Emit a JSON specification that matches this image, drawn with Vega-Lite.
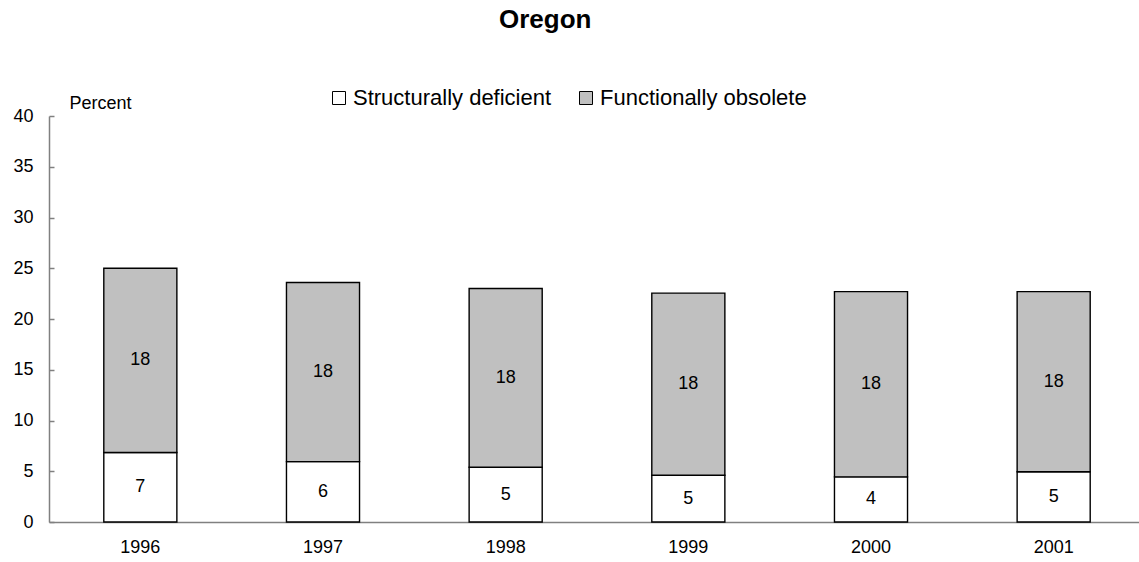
{
  "$schema": "https://vega.github.io/schema/vega-lite/v6.json",
  "autosize": {"type": "none"},
  "padding": {"left": 49, "top": 116, "right": 0, "bottom": 40},
  "width": 1096,
  "height": 406,
  "background": "white",
  "config": {"view": {"stroke": null}, "font": "Liberation Sans"},
  "title": {"text": "Oregon", "fontSize": 26, "fontWeight": "bold", "font": "Liberation Sans", "color": "black", "anchor": "start", "frame": "group", "dx": 450, "baseline": "alphabetic", "offset": 33},
  "data": {"values": [
    {"year": "1996", "category": "Structurally deficient", "value": 6.85},
    {"year": "1996", "category": "Functionally obsolete", "value": 18.15},
    {"year": "1997", "category": "Structurally deficient", "value": 5.95},
    {"year": "1997", "category": "Functionally obsolete", "value": 17.65},
    {"year": "1998", "category": "Structurally deficient", "value": 5.4},
    {"year": "1998", "category": "Functionally obsolete", "value": 17.6},
    {"year": "1999", "category": "Structurally deficient", "value": 4.6},
    {"year": "1999", "category": "Functionally obsolete", "value": 17.95},
    {"year": "2000", "category": "Structurally deficient", "value": 4.45},
    {"year": "2000", "category": "Functionally obsolete", "value": 18.25},
    {"year": "2001", "category": "Structurally deficient", "value": 4.95},
    {"year": "2001", "category": "Functionally obsolete", "value": 17.75}
  ]},
  "transform": [
    {"stack": "value", "groupby": ["year"], "sort": [{"field": "category", "order": "descending"}], "as": ["y0", "y1"]},
    {"calculate": "(datum.y0 + datum.y1) / 2", "as": "mid"}
  ],
  "encoding": {
    "x": {"field": "year", "type": "nominal", "scale": {"paddingInner": 0.6, "paddingOuter": 0.3},
      "axis": {"title": null, "ticks": false, "labelAngle": 0, "labelFontSize": 18, "labelColor": "black", "labelPadding": 16, "domainColor": "#808080", "domainWidth": 1.5}}
  },
  "layer": [
    {
      "mark": {"type": "bar", "stroke": "black", "strokeWidth": 1.4},
      "encoding": {
        "y": {"field": "y1", "type": "quantitative", "scale": {"domain": [0, 40]},
          "axis": {"title": "Percent", "values": [0, 5, 10, 15, 20, 25, 30, 35, 40], "grid": false, "tickSize": -5, "labelPadding": 21, "labelFontSize": 18, "labelColor": "black", "domainColor": "#808080", "domainWidth": 1.5, "tickColor": "#808080", "tickWidth": 1.5, "titleAngle": 0, "titleAlign": "left", "titleBaseline": "bottom", "titleX": 20, "titleY": -4, "titleFontSize": 18, "titleFontWeight": "normal", "titleColor": "black"}},
        "y2": {"field": "y0"},
        "color": {"field": "category", "type": "nominal",
          "scale": {"domain": ["Structurally deficient", "Functionally obsolete"], "range": ["#ffffff", "#c0c0c0"]},
          "legend": {"orient": "none", "legendX": 279, "legendY": -29, "direction": "horizontal", "title": null, "symbolType": "square", "symbolSize": 169, "symbolStrokeColor": "black", "symbolStrokeWidth": 1, "symbolOpacity": 1, "labelFontSize": 22, "labelColor": "black", "labelOffset": 3, "columnPadding": 23, "padding": 0, "labelLimit": 400}}
      }
    },
    {
      "mark": {"type": "text", "fontSize": 18, "color": "black"},
      "encoding": {
        "y": {"field": "mid", "type": "quantitative"},
        "text": {"field": "value", "type": "quantitative", "format": ".0f"}
      }
    }
  ]
}
